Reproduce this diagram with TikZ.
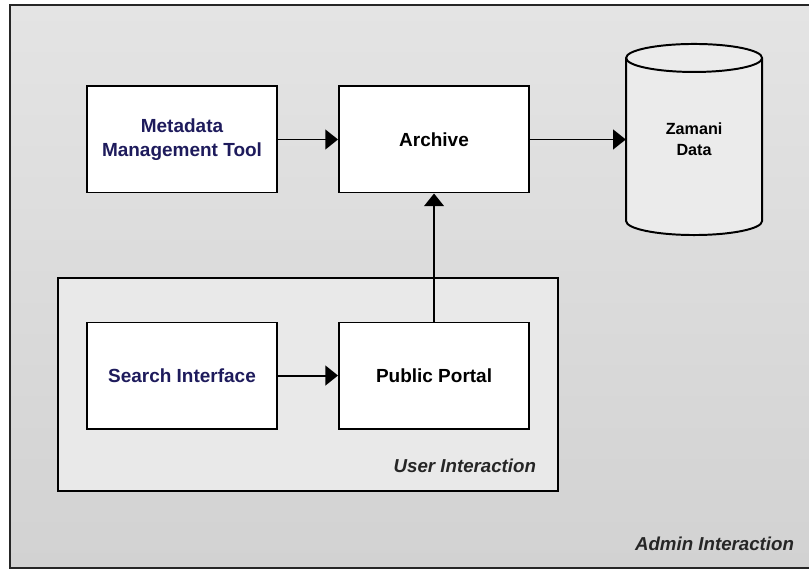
\documentclass[tikz,border=0pt]{standalone}
\usepackage{fontspec}
\setmainfont{Liberation Sans}
\usetikzlibrary{arrows.meta, positioning}
\definecolor{colorTool}{HTML}{1E1B5C}
\definecolor{colorAdminTop}{HTML}{E4E4E4}
\definecolor{colorAdminBottom}{HTML}{D2D2D2}
\definecolor{colorUser}{HTML}{E9E9E9}
\definecolor{colorStore}{HTML}{EBEBEB}
\tikzset{
  block/.style={draw, fill=white, line width=1.4pt, minimum width=4.75cm, minimum height=2.65cm,
    align=center, font=\fontsize{13.5}{17.5}\selectfont\bfseries},
  flow/.style={-{Triangle[length=9pt,width=14pt]}, line width=1.4pt},
  area label/.style={anchor=base east, text=black!85, font=\fontsize{13.3}{16}\selectfont\bfseries\itshape}
}

\begin{document}
\begin{tikzpicture}[x=0.025cm, y=-0.025cm, node distance=1.5cm]
\useasboundingbox (0,0) rectangle (809,569);
% admin area
\draw[line width=1.4pt, draw=black!85, top color=colorAdminTop, bottom color=colorAdminBottom] (10,5) rectangle (820,568);
\node[area label] (adminlbl) at (799,551) {Admin Interaction};
% user area
\draw[line width=1.4pt, fill=colorUser] (58,278) rectangle (558,491);
\node[area label] (userlbl) at (541,473) {User Interaction};

\node[block, text=colorTool] (meta) at (182,139.5) {Metadata\\Management Tool};
\node[block, right=of meta] (archive) {Archive};
\node[block, text=colorTool, below=3.2cm of meta] (search) {Search Interface};
\node[block, right=of search] (portal) {Public Portal};

% data store (cylinder)
\coordinate[right=4.1cm of archive.east] (storec);
\draw[line width=1.4pt, fill=colorStore] ([shift={(-1.7cm,2.0375cm)}]storec) -- ([shift={(-1.7cm,-2.0375cm)}]storec)
  arc[start angle=180, end angle=360, x radius=1.7cm, y radius=0.35cm] -- ([shift={(1.7cm,2.0375cm)}]storec)
  arc[start angle=0, end angle=180, x radius=1.7cm, y radius=0.35cm] -- cycle;
\draw[line width=1.4pt] ([shift={(1.7cm,2.0375cm)}]storec) arc[start angle=0, end angle=-180, x radius=1.7cm, y radius=0.35cm];
\node[minimum width=3.4cm, minimum height=4.775cm, align=center, font=\fontsize{11.5}{15}\selectfont\bfseries] (store) at (storec) {Zamani\\Data};

\draw[flow] (meta) -- (archive);
\draw[flow] (archive) -- (store);
\draw[flow] (search) -- (portal);
\draw[flow] (portal) -- (archive);
\end{tikzpicture}
\end{document}
